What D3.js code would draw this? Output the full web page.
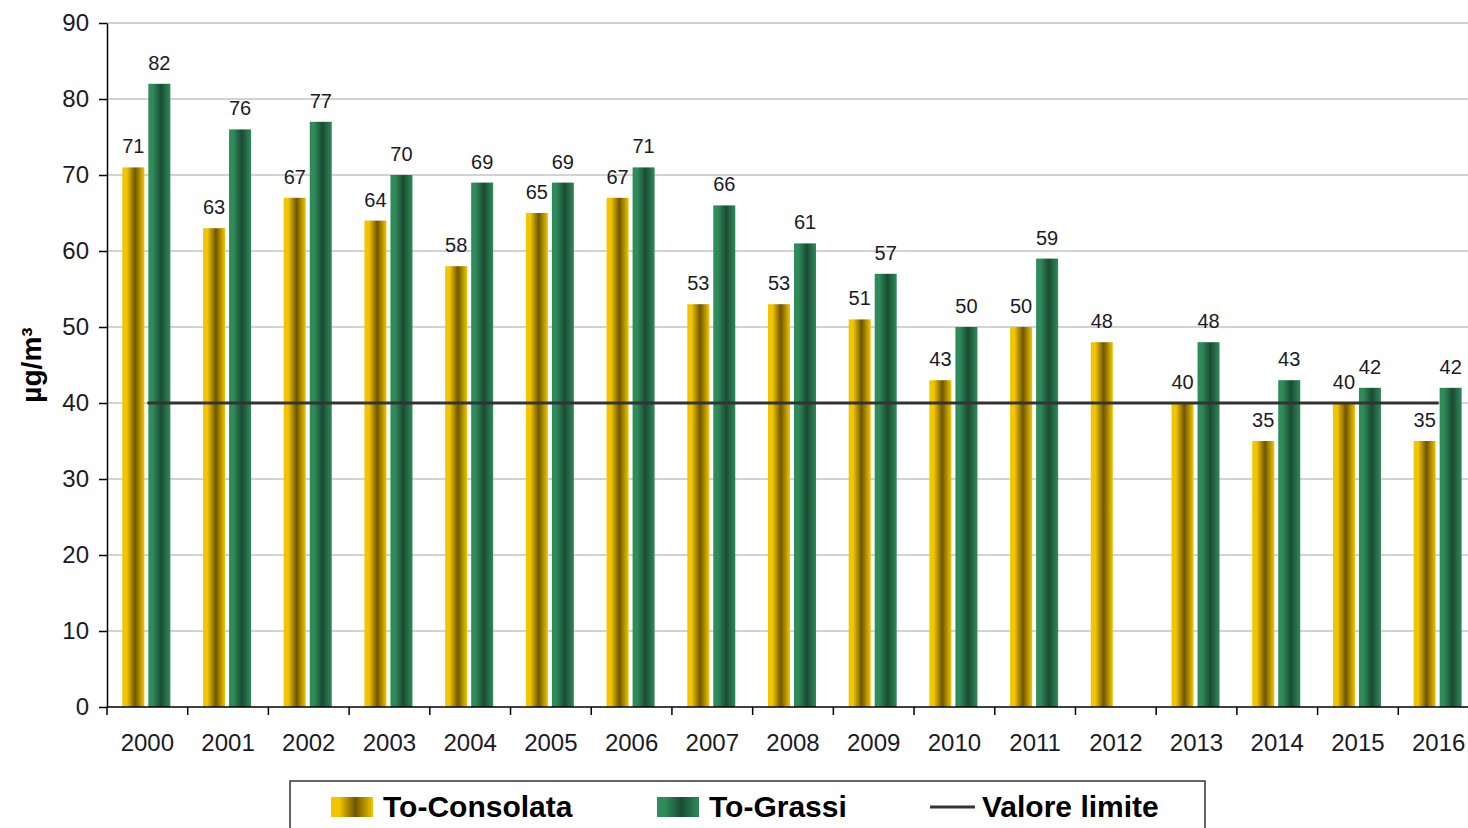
<!DOCTYPE html>
<html>
<head>
<meta charset="utf-8">
<script src="https://cdn.jsdelivr.net/npm/d3@7"></script>
<style>
  html, body { margin: 0; padding: 0; background: #fff; }
  svg { display: block; font-family: Arial, "Liberation Sans", sans-serif; }
</style>
</head>
<body>
<svg width="1468" height="828"></svg>
<script>
// data
var years = ['2000','2001','2002','2003','2004','2005','2006','2007','2008',
	'2009','2010','2011','2012','2013','2014','2015','2016'];
var consolata = [71, 63, 67, 64, 58, 65, 67, 53, 53, 51, 43, 50, 48, 40, 35, 40, 35];
var grassi = [82, 76, 77, 70, 69, 69, 71, 66, 61, 57, 50, 59, null, 48, 43, 42, 42];
var limite = [40, 40, 40, 40, 40, 40, 40, 40, 40, 40, 40, 40, 40, 40, 40, 40, 40];
var yTicks = [0, 10, 20, 30, 40, 50, 60, 70, 80, 90];

var margins = {top: 23, left: 107},
	width = 1372,
	height = 684,
	bar_w = 22,
	text_color = '#1a1a24';

var svg = d3.select('svg');

// gradients for the bars
var defs = svg.append('defs');
function addGrad(id, light, dark) {
	var g = defs.append('linearGradient').attr('id', id)
		.attr('x1', '0%').attr('x2', '100%').attr('y1', '0%').attr('y2', '0%');
	g.append('stop').attr('offset', '0%').attr('stop-color', light);
	g.append('stop').attr('offset', '20%').attr('stop-color', light);
	g.append('stop').attr('offset', '58%').attr('stop-color', dark);
	g.append('stop').attr('offset', '100%').attr('stop-color', light);
}
addGrad('gYellow', '#f2c500', '#6e5600');
addGrad('gGreen', '#2e8b5a', '#1b4b33');

var g = svg.append('g')
	.attr('transform', 'translate(' + margins.left + ',' + margins.top + ')');

var x = d3.scaleBand().domain(years).range([0, width]);
var y = d3.scaleLinear().domain([0, 90]).range([height, 0]);

// gridlines
g.append('g').selectAll('line')
	.data(yTicks.filter(function(d) { return d > 0; }))
	.enter().append('line')
	.attr('x1', 0).attr('x2', width)
	.attr('y1', function(d) { return y(d); })
	.attr('y2', function(d) { return y(d); })
	.attr('stroke', '#a6a6a6').attr('stroke-width', 1);

// bars
function drawSeries(values, fill, offset) {
	var data = years.map(function(yr, i) { return {year: yr, v: values[i]}; })
		.filter(function(d) { return d.v != null; });
	var sg = g.append('g');
	sg.selectAll('rect').data(data).enter().append('rect')
		.attr('x', function(d) { return x(d.year) + x.bandwidth() / 2 + offset; })
		.attr('y', function(d) { return y(d.v); })
		.attr('width', bar_w)
		.attr('height', function(d) { return height - y(d.v); })
		.attr('fill', fill);
	sg.selectAll('text').data(data).enter().append('text')
		.attr('x', function(d) { return x(d.year) + x.bandwidth() / 2 + offset + bar_w / 2; })
		.attr('y', function(d) { return y(d.v) - 14; })
		.attr('text-anchor', 'middle')
		.attr('font-size', '20px')
		.attr('fill', text_color)
		.text(function(d) { return d.v; });
}
drawSeries(consolata, 'url(#gYellow)', -25);
drawSeries(grassi, 'url(#gGreen)', 1);

// limit line
var line = d3.line()
	.x(function(d, i) { return x(years[i]) + x.bandwidth() / 2; })
	.y(function(d) { return y(d); });
g.append('path').datum(limite)
	.attr('d', line)
	.attr('fill', 'none')
	.attr('stroke', '#333')
	.attr('stroke-width', 3);

// y axis
var yAxis = g.append('g')
	.call(d3.axisLeft(y).tickValues(yTicks).tickSize(8).tickSizeOuter(0).tickPadding(10));
yAxis.select('.domain').attr('stroke', '#000').attr('stroke-width', 1.5);
yAxis.selectAll('.tick line').attr('stroke', '#000').attr('stroke-width', 1.5);
yAxis.selectAll('text').attr('font-size', '24px').attr('fill', text_color)
	.attr('font-family', 'Arial, "Liberation Sans", sans-serif');

// x axis: ticks at band boundaries
var xAxis = g.append('g').attr('transform', 'translate(0,' + height + ')');
xAxis.append('line').attr('x1', 0).attr('x2', width)
	.attr('stroke', '#000').attr('stroke-width', 1.5);
xAxis.selectAll('.bt').data(years).enter().append('line')
	.attr('class', 'bt')
	.attr('x1', function(d) { return x(d); })
	.attr('x2', function(d) { return x(d); })
	.attr('y1', 0).attr('y2', 8)
	.attr('stroke', '#000').attr('stroke-width', 1.5);
xAxis.selectAll('text').data(years).enter().append('text')
	.attr('x', function(d) { return x(d) + x.bandwidth() / 2; })
	.attr('y', 44)
	.attr('text-anchor', 'middle')
	.attr('font-size', '24px')
	.attr('fill', text_color)
	.text(function(d) { return d; });

// y title
svg.append('text')
	.attr('transform', 'translate(41,365) rotate(-90)')
	.attr('text-anchor', 'middle')
	.attr('font-size', '28px')
	.attr('font-weight', 'bold')
	.attr('fill', '#000')
	.text('µg/m³');

// legend
var lg = svg.append('g');
lg.append('rect').attr('x', 290).attr('y', 781).attr('width', 915).attr('height', 60)
	.attr('fill', '#fff').attr('stroke', '#333').attr('stroke-width', 1.5);
lg.append('rect').attr('x', 331).attr('y', 797).attr('width', 42).attr('height', 20).attr('fill', 'url(#gYellow)');
lg.append('rect').attr('x', 657).attr('y', 797).attr('width', 42).attr('height', 20).attr('fill', 'url(#gGreen)');
lg.append('line').attr('x1', 930).attr('x2', 975).attr('y1', 807).attr('y2', 807)
	.attr('stroke', '#333').attr('stroke-width', 3);
var legendItems = [['To-Consolata', 383], ['To-Grassi', 709], ['Valore limite', 982]];
lg.selectAll('text.leg').data(legendItems).enter().append('text')
	.attr('class', 'leg')
	.attr('x', function(d) { return d[1]; })
	.attr('y', 817)
	.attr('font-size', '30px')
	.attr('font-weight', 'bold')
	.attr('fill', '#000')
	.text(function(d) { return d[0]; });
</script>
</body>
</html>
